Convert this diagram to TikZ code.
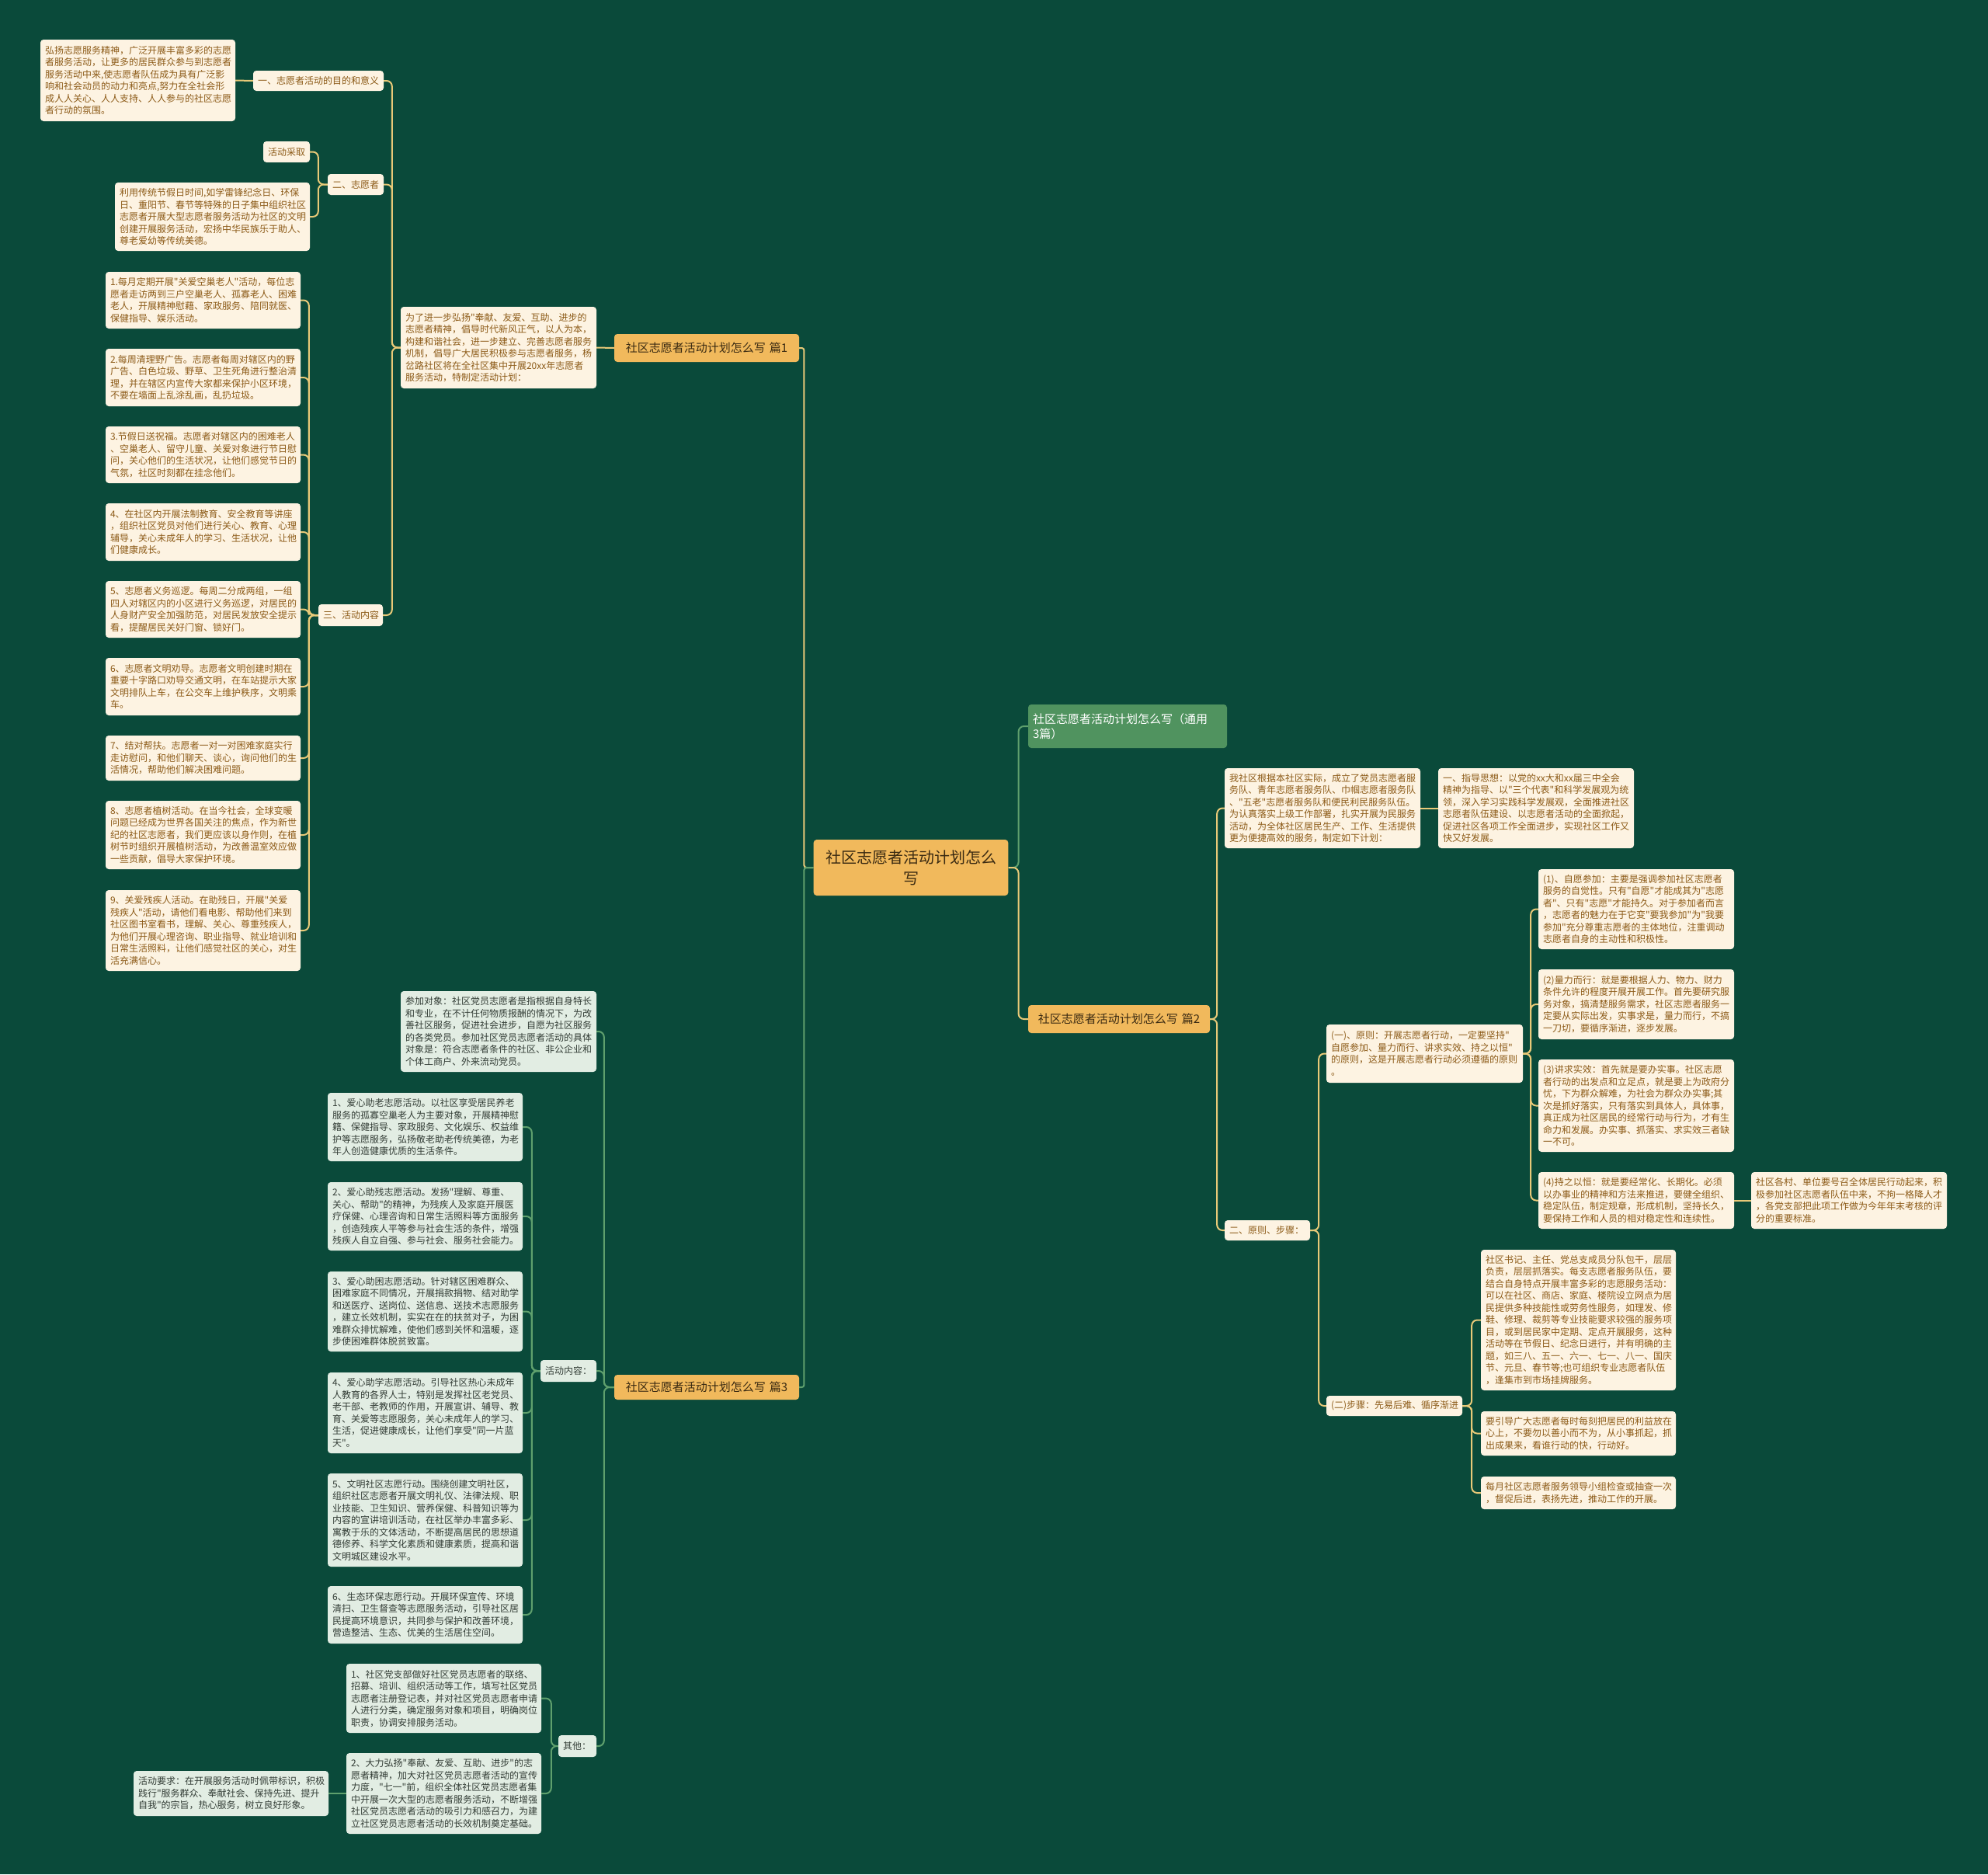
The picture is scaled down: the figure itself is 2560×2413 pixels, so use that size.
\documentclass[tikz,border=0pt]{standalone}
\usepackage{fontspec}
\setmainfont{Noto Sans CJK SC}[Ligatures=TeXOff]
\definecolor{bg}{HTML}{0A4A3A}
\definecolor{cream}{HTML}{FDF3E2}
\definecolor{creamtext}{HTML}{8C5A17}
\definecolor{orangefill}{HTML}{F1B95C}
\definecolor{orangetext}{HTML}{3A2A12}
\definecolor{greenfill}{HTML}{50935F}
\definecolor{mint}{HTML}{E2EDE3}
\definecolor{minttext}{HTML}{333D36}
\definecolor{yline}{HTML}{E8C978}
\definecolor{gline}{HTML}{5FA06D}
\newcommand\bx[7]{%
  \pgfmathsetmacro\myTW{#5-#3-12}%
  \pgfmathsetmacro\myBH{#6-#4}%
  \node[#1, text width=\myTW pt, minimum height=\myBH pt] (#2) at ({(#3+#5)/2},{(#4+#6)/2}) {#7};}
\newcommand\cR[4]{\draw[#1] (#2.east) -- ++(#4,0) |- (#3.west);}
\newcommand\cL[4]{\draw[#1] (#2.west) -- ++(-#4,0) |- (#3.east);}
\tikzset{
  cbox/.style={fill=cream, text=creamtext, rounded corners=4pt, inner xsep=6pt, inner ysep=3pt, align=left, font=\fontsize{12}{15.5}\selectfont},
  mbox/.style={fill=mint, text=minttext, rounded corners=4pt, inner xsep=6pt, inner ysep=3pt, align=left, font=\fontsize{12}{15.5}\selectfont},
  obox/.style={fill=orangefill, text=orangetext, rounded corners=4pt, inner xsep=6pt, inner ysep=2pt, align=center, font=\fontsize{15}{18}\selectfont},
  gbox/.style={fill=greenfill, text=white, rounded corners=4pt, inner xsep=6pt, inner ysep=2pt, align=left, font=\fontsize{15}{19}\selectfont},
  yl/.style={draw=yline, line width=2pt, rounded corners=7pt},
  gl/.style={draw=gline, line width=2pt, rounded corners=7pt},
}
\begin{document}
\begin{tikzpicture}[x=1pt,y=-1pt]
\fill[bg] (0,0) rectangle (2560,2413);
\useasboundingbox (0,0) rectangle (2560,2413);

% ---------- center ----------
\node[fill=orangefill, text=orangetext, rounded corners=4pt, align=center, text width=244pt, minimum height=72pt, font=\fontsize{20}{27}\selectfont] (c) at (1173,1117) {社区志愿者活动计划怎么\\写};

% ---------- part 1 (left top) ----------
\bx{obox}{p1}{791}{430}{1029}{466}{社区志愿者活动计划怎么写 篇1}
\bx{cbox}{intro}{516}{395}{768}{500}{为了进一步弘扬"奉献、友爱、互助、进步的\\志愿者精神，倡导时代新风正气，以人为本，\\构建和谐社会，进一步建立、完善志愿者服务\\机制，倡导广大居民积极参与志愿者服务，杨\\岔路社区将在全社区集中开展20xx年志愿者\\服务活动，特制定活动计划：}
\bx{cbox}{yi}{326}{91}{494}{117}{一、志愿者活动的目的和意义}
\bx{cbox}{tl}{52}{51}{303}{156}{弘扬志愿服务精神，广泛开展丰富多彩的志愿\\者服务活动，让更多的居民群众参与到志愿者\\服务活动中来,使志愿者队伍成为具有广泛影\\响和社会动员的动力和亮点,努力在全社会形\\成人人关心、人人支持、人人参与的社区志愿\\者行动的氛围。}
\bx{cbox}{er}{422}{224}{494}{251}{二、志愿者}
\bx{cbox}{cq}{339}{182}{399}{209}{活动采取}
\bx{cbox}{ly}{148}{235}{399}{323}{利用传统节假日时间,如学雷锋纪念日、环保\\日、重阳节、春节等特殊的日子集中组织社区\\志愿者开展大型志愿者服务活动为社区的文明\\创建开展服务活动，宏扬中华民族乐于助人、\\尊老爱幼等传统美德。}
\bx{cbox}{san}{410}{778}{493}{806}{三、活动内容}
\bx{cbox}{i1}{136}{350}{387}{423}{1.每月定期开展"关爱空巢老人"活动，每位志\\愿者走访两到三户空巢老人、孤寡老人、困难\\老人，开展精神慰藉、家政服务、陪同就医、\\保健指导、娱乐活动。}
\bx{cbox}{i2}{136}{449}{387}{523}{2.每周清理野广告。志愿者每周对辖区内的野\\广告、白色垃圾、野草、卫生死角进行整治清\\理，并在辖区内宣传大家都来保护小区环境，\\不要在墙面上乱涂乱画，乱扔垃圾。}
\bx{cbox}{i3}{136}{549}{387}{622}{3.节假日送祝福。志愿者对辖区内的困难老人\\、空巢老人、留守儿童、关爱对象进行节日慰\\问，关心他们的生活状况，让他们感觉节日的\\气氛，社区时刻都在挂念他们。}
\bx{cbox}{i4}{136}{648}{387}{722}{4、在社区内开展法制教育、安全教育等讲座\\，组织社区党员对他们进行关心、教育、心理\\辅导，关心未成年人的学习、生活状况，让他\\们健康成长。}
\bx{cbox}{i5}{136}{748}{387}{821}{5、志愿者义务巡逻。每周二分成两组，一组\\四人对辖区内的小区进行义务巡逻，对居民的\\人身财产安全加强防范，对居民发放安全提示\\看，提醒居民关好门窗、锁好门。}
\bx{cbox}{i6}{136}{847}{387}{921}{6、志愿者文明劝导。志愿者文明创建时期在\\重要十字路口劝导交通文明，在车站提示大家\\文明排队上车，在公交车上维护秩序，文明乘\\车。}
\bx{cbox}{i7}{136}{947}{387}{1005}{7、结对帮扶。志愿者一对一对困难家庭实行\\走访慰问，和他们聊天、谈心，询问他们的生\\活情况，帮助他们解决困难问题。}
\bx{cbox}{i8}{136}{1031}{387}{1119}{8、志愿者植树活动。在当今社会，全球变暖\\问题已经成为世界各国关注的焦点，作为新世\\纪的社区志愿者，我们更应该以身作则，在植\\树节时组织开展植树活动，为改善温室效应做\\一些贡献，倡导大家保护环境。}
\bx{cbox}{i9}{136}{1146}{387}{1250}{9、关爱残疾人活动。在助残日，开展"关爱\\残疾人"活动，请他们看电影、帮助他们来到\\社区图书室看书，理解、关心、尊重残疾人，\\为他们开展心理咨询、职业指导、就业培训和\\日常生活照料，让他们感觉社区的关心，对生\\活充满信心。}

% ---------- part 3 (left bottom) ----------
\bx{obox}{p3}{791}{1770}{1029}{1802}{社区志愿者活动计划怎么写 篇3}
\bx{mbox}{cj}{516}{1276}{768}{1380}{参加对象：社区党员志愿者是指根据自身特长\\和专业，在不计任何物质报酬的情况下，为改\\善社区服务，促进社会进步，自愿为社区服务\\的各类党员。参加社区党员志愿者活动的具体\\对象是：符合志愿者条件的社区、非公企业和\\个体工商户、外来流动党员。}
\bx{mbox}{hd}{696}{1751}{768}{1779}{活动内容：}
\bx{mbox}{q1}{422}{1407}{673}{1495}{1、爱心助老志愿活动。以社区享受居民养老\\服务的孤寡空巢老人为主要对象，开展精神慰\\籍、保健指导、家政服务、文化娱乐、权益维\\护等志愿服务，弘扬敬老助老传统美德，为老\\年人创造健康优质的生活条件。}
\bx{mbox}{q2}{422}{1522}{673}{1610}{2、爱心助残志愿活动。发扬"理解、尊重、\\关心、帮助"的精神，为残疾人及家庭开展医\\疗保健、心理咨询和日常生活照料等方面服务\\，创造残疾人平等参与社会生活的条件，增强\\残疾人自立自强、参与社会、服务社会能力。}
\bx{mbox}{q3}{422}{1637}{673}{1740}{3、爱心助困志愿活动。针对辖区困难群众、\\困难家庭不同情况，开展捐款捐物、结对助学\\和送医疗、送岗位、送信息、送技术志愿服务\\，建立长效机制，实实在在的扶贫对子，为困\\难群众排忧解难，使他们感到关怀和温暖，逐\\步使困难群体脱贫致富。}
\bx{mbox}{q4}{422}{1767}{673}{1871}{4、爱心助学志愿活动。引导社区热心未成年\\人教育的各界人士，特别是发挥社区老党员、\\老干部、老教师的作用，开展宣讲、辅导、教\\育、关爱等志愿服务，关心未成年人的学习、\\生活，促进健康成长，让他们享受"同一片蓝\\天"。}
\bx{mbox}{q5}{422}{1897}{673}{2017}{5、文明社区志愿行动。围绕创建文明社区，\\组织社区志愿者开展文明礼仪、法律法规、职\\业技能、卫生知识、营养保健、科普知识等为\\内容的宣讲培训活动，在社区举办丰富多彩、\\寓教于乐的文体活动，不断提高居民的思想道\\德修养、科学文化素质和健康素质，提高和谐\\文明城区建设水平。}
\bx{mbox}{q6}{422}{2042}{673}{2116}{6、生态环保志愿行动。开展环保宣传、环境\\清扫、卫生督查等志愿服务活动，引导社区居\\民提高环境意识，共同参与保护和改善环境，\\营造整洁、生态、优美的生活居住空间。}
\bx{mbox}{qt}{719}{2234}{768}{2262}{其他：}
\bx{mbox}{o1}{446}{2142}{697}{2231}{1、社区党支部做好社区党员志愿者的联络、\\招募、培训、组织活动等工作，填写社区党员\\志愿者注册登记表，并对社区党员志愿者申请\\人进行分类，确定服务对象和项目，明确岗位\\职责，协调安排服务活动。}
\bx{mbox}{o2}{446}{2257}{697}{2361}{2、大力弘扬"奉献、友爱、互助、进步"的志\\愿者精神，加大对社区党员志愿者活动的宣传\\力度，"七一"前，组织全体社区党员志愿者集\\中开展一次大型的志愿者服务活动，不断增强\\社区党员志愿者活动的吸引力和感召力，为建\\立社区党员志愿者活动的长效机制奠定基础。}
\bx{mbox}{yq}{172}{2280}{423}{2338}{活动要求：在开展服务活动时佩带标识，积极\\践行"服务群众、奉献社会、保持先进、提升\\自我"的宗旨，热心服务，树立良好形象。}

% ---------- right side ----------
\bx{gbox}{ty}{1324}{907}{1580}{963}{社区志愿者活动计划怎么写（通用\\3篇）}
\bx{obox}{p2}{1324}{1294}{1558}{1330}{社区志愿者活动计划怎么写 篇2}
\bx{cbox}{ws}{1577}{989}{1829}{1092}{我社区根据本社区实际，成立了党员志愿者服\\务队、青年志愿者服务队、巾帼志愿者服务队\\、"五老"志愿者服务队和便民利民服务队伍。\\为认真落实上级工作部署，扎实开展为民服务\\活动，为全体社区居民生产、工作、生活提供\\更为便捷高效的服务，制定如下计划：}
\bx{cbox}{zd}{1852}{989}{2104}{1092}{一、指导思想：以党的xx大和xx届三中全会\\精神为指导、以"三个代表"和科学发展观为统\\领，深入学习实践科学发展观，全面推进社区\\志愿者队伍建设、以志愿者活动的全面掀起，\\促进社区各项工作全面进步，实现社区工作又\\快又好发展。}
\bx{cbox}{yz}{1577}{1571}{1687}{1597}{二、原则、步骤：}
\bx{cbox}{yy}{1708}{1319}{1961}{1394}{(一)、原则：开展志愿者行动，一定要坚持"\\自愿参加、量力而行、讲求实效、持之以恒"\\的原则，这是开展志愿者行动必须遵循的原则\\。}
\bx{cbox}{s1}{1981}{1119}{2233}{1222}{(1)、自愿参加：主要是强调参加社区志愿者\\服务的自觉性。只有"自愿"才能成其为"志愿\\者"、只有"志愿"才能持久。对于参加者而言\\，志愿者的魅力在于它变"要我参加"为"我要\\参加"充分尊重志愿者的主体地位，注重调动\\志愿者自身的主动性和积极性。}
\bx{cbox}{s2}{1981}{1248}{2233}{1338}{(2)量力而行：就是要根据人力、物力、财力\\条件允许的程度开展开展工作。首先要研究服\\务对象，搞清楚服务需求，社区志愿者服务一\\定要从实际出发，实事求是，量力而行，不搞\\一刀切，要循序渐进，逐步发展。}
\bx{cbox}{s3}{1981}{1364}{2233}{1483}{(3)讲求实效：首先就是要办实事。社区志愿\\者行动的出发点和立足点，就是要上为政府分\\忧，下为群众解难，为社会为群众办实事;其\\次是抓好落实，只有落实到具体人，具体事，\\真正成为社区居民的经常行动与行为，才有生\\命力和发展。办实事、抓落实、求实效三者缺\\一不可。}
\bx{cbox}{s4}{1981}{1509}{2233}{1582}{(4)持之以恒：就是要经常化、长期化。必须\\以办事业的精神和方法来推进，要健全组织、\\稳定队伍，制定规章，形成机制，坚持长久，\\要保持工作和人员的相对稳定性和连续性。}
\bx{cbox}{s5}{2255}{1509}{2507}{1582}{社区各村、单位要号召全体居民行动起来，积\\极参加社区志愿者队伍中来，不拘一格降人才\\，各党支部把此项工作做为今年年末考核的评\\分的重要标准。}
\bx{cbox}{bz}{1708}{1797}{1883}{1823}{(二)步骤：先易后难、循序渐进}
\bx{cbox}{ba}{1907}{1609}{2158}{1790}{社区书记、主任、党总支成员分队包干，层层\\负责，层层抓落实。每支志愿者服务队伍，要\\结合自身特点开展丰富多彩的志愿服务活动：\\可以在社区、商店、家庭、楼院设立网点为居\\民提供多种技能性或劳务性服务，如理发、修\\鞋、修理、裁剪等专业技能要求较强的服务项\\目，或到居民家中定期、定点开展服务，这种\\活动等在节假日、纪念日进行，并有明确的主\\题，如三八、五一、六一、七一、八一、国庆\\节、元旦、春节等;也可组织专业志愿者队伍\\，逢集市到市场挂牌服务。}
\bx{cbox}{bb}{1907}{1817}{2158}{1874}{要引导广大志愿者每时每刻把居民的利益放在\\心上，不要勿以善小而不为，从小事抓起，抓\\出成果来，看谁行动的快，行动好。}
\bx{cbox}{bc}{1907}{1901}{2158}{1943}{每月社区志愿者服务领导小组检查或抽查一次\\，督促后进，表扬先进，推动工作的开展。}

% ---------- connectors ----------
\draw[yl, rounded corners=3pt] (c.west) -- ++(-12,0) |- (p1.east);
\draw[gl, rounded corners=3pt] (c.west) -- ++(-12,0) |- (p3.east);
\cR{gl}{c}{ty}{13}
\cR{yl}{c}{p2}{13}

\draw[yl] (p1.west) -- (intro.east);
\cL{yl}{intro}{yi}{11}
\cL{yl}{intro}{er}{11}
\cL{yl}{intro}{san}{11}
\draw[yl] (yi.west) -- (tl.east);
\cL{yl}{er}{cq}{12}
\cL{yl}{er}{ly}{12}
\foreach \k in {i1,i2,i3,i4,i5,i6,i7,i8,i9} {\cL{yl}{san}{\k}{12}}

\cL{gl}{p3}{cj}{13}
\cL{gl}{p3}{hd}{13}
\cL{gl}{p3}{qt}{13}
\foreach \k in {q1,q2,q3,q4,q5,q6} {\cL{gl}{hd}{\k}{11}}
\cL{gl}{qt}{o1}{9}
\cL{gl}{qt}{o2}{9}
\draw[gl] (o2.west) -- (yq.east);

\cR{yl}{p2}{ws}{9}
\cR{yl}{p2}{yz}{9}
\draw[yl] (ws.east) -- (zd.west);
\cR{yl}{yz}{yy}{11}
\cR{yl}{yz}{bz}{11}
\foreach \k in {s1,s2,s3,s4} {\cR{yl}{yy}{\k}{10}}
\draw[yl] (s4.east) -- (s5.west);
\foreach \k in {ba,bb,bc} {\cR{yl}{bz}{\k}{12}}
\end{tikzpicture}
\end{document}
